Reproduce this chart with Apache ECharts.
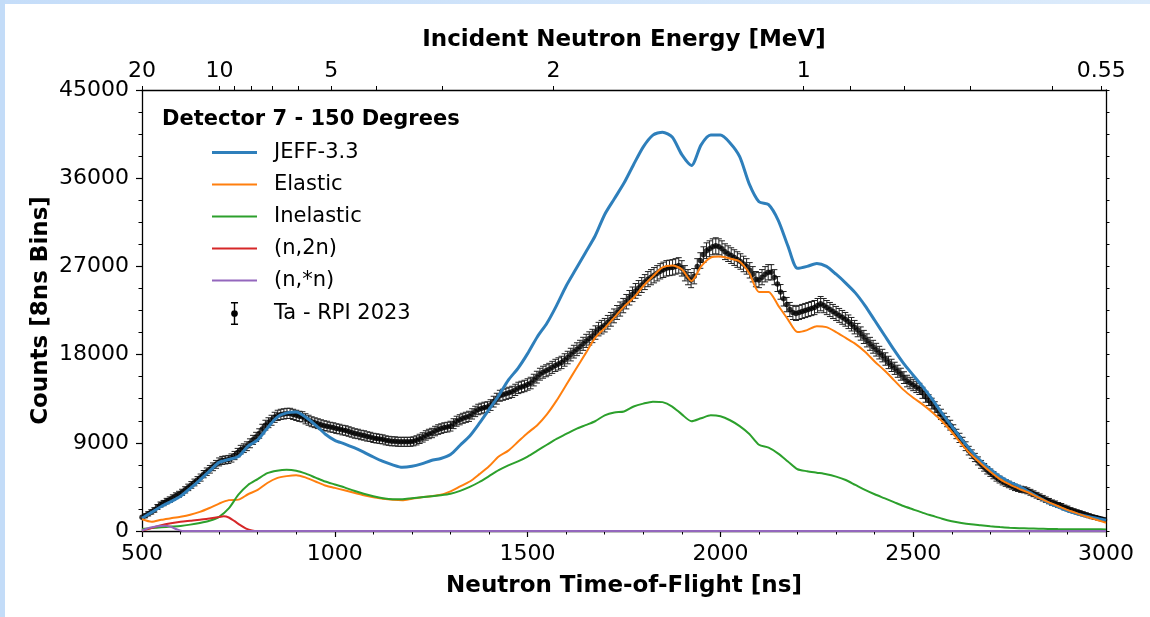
<!DOCTYPE html>
<html>
<head>
<meta charset="utf-8">
<script src="https://cdn.jsdelivr.net/npm/echarts@6/dist/echarts.min.js"></script>
<style>
  html, body { margin: 0; padding: 0; background: #fff; }
  #chart { position: absolute; left: 0; top: 0; width: 1150px; height: 617px; }
  .edge-top { position: absolute; left: 0; top: 0; width: 1150px; height: 4px;
              background: linear-gradient(90deg, #c5ddf9, #dcebfb); }
  .edge-left { position: absolute; left: 0; top: 0; width: 5px; height: 617px; background: #c3dcf8; }
</style>
</head>
<body>
<div id="chart"></div>
<div class="edge-top"></div>
<div class="edge-left"></div>
<script>
// ---- Measured Ta spectrum, detector 7 (150 deg), 8 ns TOF bins from 500 ns ----
const FIRST_BIN_NS = 500;
const BIN_WIDTH_NS = 8;
const counts = [
  1400,1550,1750,1950,2150,2450,2700,2850,3050,3200,
  3400,3600,3750,3950,4200,4450,4700,4950,5200,5450,
  5800,6050,6300,6550,6800,7050,7200,7250,7300,7450,
  7700,8000,8300,8450,8650,8950,9300,9600,9950,10400,
  10800,11050,11300,11600,11800,11900,11950,12000,12000,11900,
  11800,11700,11650,11450,11300,11150,11050,10950,10850,10750,
  10700,10600,10550,10450,10400,10300,10250,10150,10050,9950,
  9900,9800,9750,9650,9600,9500,9450,9400,9350,9250,
  9200,9150,9150,9100,9100,9100,9100,9100,9150,9250,
  9400,9550,9750,9900,10000,10200,10350,10450,10550,10600,
  10700,10950,11200,11350,11500,11600,11700,11950,12200,12400,
  12500,12600,12650,12850,13200,13500,13800,13900,14000,14100,
  14200,14400,14600,14700,14800,14950,15100,15400,15700,16000,
  16200,16350,16500,16700,16900,17050,17200,17450,17700,18000,
  18300,18550,18800,19100,19400,19650,19900,20250,20600,20800,
  21000,21300,21600,21950,22300,22650,23000,23400,23800,24150,
  24500,24800,25100,25400,25700,25900,26100,26300,26500,26650,
  26800,26850,26900,27000,27100,26800,26300,25900,25600,26000,
  27000,27600,28200,28600,28800,29000,29100,29000,28800,28500,
  28300,28100,27900,27700,27500,27250,27000,26600,26200,25700,
  25600,25900,26200,26400,26400,25900,25200,24400,23700,23100,
  22600,22300,22200,22300,22400,22500,22600,22700,22800,23000,
  23200,23000,22800,22600,22400,22200,22000,21800,21600,21350,
  21100,20800,20500,20150,19800,19450,19100,18800,18500,18200,
  17900,17550,17200,16900,16600,16300,16000,15650,15300,15100,
  14900,14700,14500,14100,13700,13350,13000,12650,12300,11900,
  11500,11150,10800,10350,9900,9500,9100,8650,8200,7850,
  7500,7150,6800,6500,6200,5950,5700,5450,5250,5050,
  4900,4750,4600,4450,4350,4250,4200,4100,3950,3800,
  3650,3500,3350,3200,3050,2900,2800,2650,2550,2400,
  2300,2150,2050,1950,1850,1750,1650,1550,1450,1380,
  1300,1220,1150
];
const countErr = [
  190,200,210,220,230,250,260,270,280,285,
  290,295,300,310,320,330,340,345,350,360,
  370,380,390,395,400,405,410,410,410,415,
  420,430,440,445,450,455,460,470,480,490,
  500,505,510,515,520,520,520,520,520,520,
  520,520,520,515,510,505,500,500,500,500,
  500,495,490,490,490,490,490,485,480,480,
  480,480,480,475,470,470,470,465,460,460,
  460,460,460,460,460,460,460,460,460,465,
  470,475,480,480,480,485,490,490,490,495,
  500,505,510,515,510,515,520,525,530,535,
  540,540,540,545,550,555,560,565,570,570,
  570,575,580,580,580,585,590,595,600,605,
  610,610,610,615,620,625,630,635,640,645,
  650,655,660,665,670,675,680,685,690,690,
  690,695,700,705,710,720,730,735,740,745,
  750,755,760,765,770,775,780,780,780,785,
  790,790,790,790,790,785,780,775,770,780,
  790,795,800,805,810,815,820,815,810,805,
  800,800,800,795,790,790,790,785,780,775,
  770,775,780,780,780,770,760,750,740,730,
  720,720,720,720,720,720,720,720,720,725,
  730,725,720,720,720,715,710,705,700,695,
  690,685,680,675,670,665,660,655,650,645,
  640,635,630,625,620,615,610,600,590,585,
  580,575,570,565,560,555,550,540,530,525,
  520,510,500,490,480,470,460,450,440,430,
  420,410,400,390,380,375,370,360,350,345,
  340,335,330,325,320,315,310,305,300,295,
  290,285,280,275,270,265,260,255,250,245,
  240,230,220,215,210,205,200,195,190,185,
  180,175,170
];
const tofBins = counts.map((_, i) => FIRST_BIN_NS + i * BIN_WIDTH_NS);

// ---- JEFF-3.3 simulation and its reaction components ----
const modelTof = [
  500,525,550,575,600,625,650,675,700,725,750,775,800,825,850,875,900,925,950,975,
  1000,1025,1050,1075,1100,1125,1150,1175,1200,1225,1250,1275,1300,1325,1350,1375,1400,1425,1450,1475,
  1500,1525,1550,1575,1600,1625,1650,1675,1700,1725,1750,1775,1800,1825,1850,1875,1900,1925,1950,1975,
  2000,2025,2050,2075,2100,2125,2150,2175,2200,2225,2250,2275,2300,2325,2350,2375,2400,2425,2450,2475,
  2500,2525,2550,2575,2600,2625,2650,2675,2700,2725,2750,2775,2800,2825,2850,2875,2900,2925,2950,2975,
  3000
];
const jeff33 = [
  1300,1900,2500,3000,3550,4350,5200,6100,7000,7300,
  7600,8650,9300,10500,11600,12050,12150,11600,10800,9900,
  9250,8900,8500,8050,7550,7100,6750,6500,6600,6850,
  7200,7400,7800,8750,9700,11000,12400,13800,15400,16600,
  18100,19800,21200,23000,25000,26700,28400,30100,32300,33900,
  35500,37400,39200,40400,40700,40200,38400,37300,39400,40400,
  40400,39600,38200,35400,33600,33300,31700,29100,26800,27000,
  27300,27000,26200,25300,24300,23000,21500,20000,18500,17100,
  15900,14700,13400,12000,10700,9400,8200,7150,6300,5550,
  5000,4550,4000,3450,2900,2450,2050,1750,1500,1300,
  1100
];
const elastic = [
  1200,950,1150,1300,1450,1650,1950,2350,2800,3150,
  3200,3750,4200,4900,5400,5600,5700,5450,5050,4650,
  4400,4150,3900,3650,3450,3300,3200,3150,3300,3450,
  3550,3700,4050,4550,5050,5800,6600,7600,8200,9100,
  10000,10800,11900,13300,14900,16500,18100,19700,20700,21800,
  22900,23800,25000,26000,26900,27100,26700,25500,27000,27900,
  28000,27800,27500,26300,24400,24400,23000,21600,20300,20500,
  20900,20800,20300,19700,19100,18300,17300,16400,15400,14400,
  13600,12900,12100,11200,10100,8900,7800,6900,6050,5300,
  4750,4300,3900,3400,2950,2550,2150,1800,1450,1150,
  850
];
const inelastic = [
  200,300,380,450,520,650,820,1050,1450,2300,
  3700,4700,5300,5900,6150,6250,6150,5850,5450,5050,
  4750,4450,4100,3800,3550,3350,3250,3250,3350,3450,
  3550,3650,3800,4100,4500,5000,5600,6200,6700,7100,
  7600,8200,8800,9400,9900,10400,10800,11200,11800,12100,
  12200,12700,13000,13200,13150,12700,11900,11200,11500,11800,
  11700,11300,10700,9900,8800,8500,7900,7100,6300,6100,
  5950,5800,5550,5200,4700,4200,3750,3350,2950,2550,
  2200,1850,1550,1250,1000,820,680,580,480,400,
  340,290,260,230,210,195,185,180,175,170,
  165
];
const n2nTof = [500,525,550,575,600,625,650,675,700,712,725,740,755,770,785,800,3000];
const n2n    = [50,300,600,800,950,1050,1150,1280,1420,1500,1380,1000,600,250,60,0,0];
const nstarTof = [500,520,540,560,575,590,605,3000];
const nstar    = [50,330,480,530,420,180,0,0];

// ---- Axis ticks ----
const yTicks = [0, 9000, 18000, 27000, 36000, 45000];
const energyMajor = [20, 10, 5, 2, 1, 0.55];            // MeV, labelled on top axis
const energyMinor = [9, 8, 7, 6, 4, 3, 0.9, 0.8, 0.7, 0.6];
const flightPathM = 30.65;                              // flight path length in metres
const TOF_MIN = 500, TOF_MAX = 3000;

// Non-relativistic TOF (ns) of a neutron with energy E (MeV) over the flight path
function energyToTof(E) {
  const t = 72.2977 * flightPathM / Math.sqrt(E);
  return Math.min(TOF_MAX, Math.max(TOF_MIN, t));
}
const majorTof = energyMajor.map(energyToTof);
const allTickTof = energyMajor.concat(energyMinor).map(energyToTof);

const zip = (xs, ys) => xs.map((x, i) => [x, ys[i]]);
const FONT = 'DejaVu Sans';
const BLACK = '#000';

const errorRows = tofBins.map((t, i) => [t, counts[i], countErr[i]]);

function renderErrorBar(params, api) {
  const t = api.value(0), c = api.value(1), e = api.value(2);
  const hi = api.coord([t, c + e]);
  const lo = api.coord([t, c - e]);
  const cap = 3;
  const style = { stroke: '#222', lineWidth: 1 };
  return {
    type: 'group',
    children: [
      { type: 'line', shape: { x1: hi[0], y1: hi[1], x2: lo[0], y2: lo[1] }, style },
      { type: 'line', shape: { x1: hi[0] - cap, y1: hi[1], x2: hi[0] + cap, y2: hi[1] }, style },
      { type: 'line', shape: { x1: lo[0] - cap, y1: lo[1], x2: lo[0] + cap, y2: lo[1] }, style }
    ]
  };
}

// Legend glyphs: plain line handles and an error bar with a dot
const thickLineIcon = 'path://M0,0H45V3H0Z';
const lineIcon = 'path://M0,0H45V2H0Z';
const errorbarIcon = 'path://M3,0H11V1.6H3Z M6.2,0H7.8V26H6.2Z M3,24.4H11V26H3Z M3.2,13A3.8,3.8 0 1,1 10.8,13A3.8,3.8 0 1,1 3.2,13Z';

const axisLineStyle = { color: BLACK, width: 1.3 };
const tickFont = { fontFamily: FONT, fontSize: 22, color: BLACK };
const nameFont = { fontFamily: FONT, fontSize: 23, fontWeight: 'bold', color: BLACK };
const plainNumber = (v) => String(v);

const chart = echarts.init(document.getElementById('chart'), null, { renderer: 'canvas' });
chart.setOption({
  animation: false,
  backgroundColor: '#fff',
  title: {
    text: 'Detector 7 - 150 Degrees',
    left: 162, top: 109, padding: 0,
    textStyle: { fontFamily: FONT, fontSize: 21, fontWeight: 'bold', color: BLACK }
  },
  legend: {
    orient: 'vertical',
    left: 212, top: 142,
    itemWidth: 45, itemHeight: 23, itemGap: 11,
    padding: 0,
    symbolKeepAspect: true,
    textStyle: { fontFamily: FONT, fontSize: 21, color: BLACK, padding: [0, 0, 0, 12] },
    data: [
      { name: 'JEFF-3.3', icon: thickLineIcon },
      { name: 'Elastic', icon: lineIcon },
      { name: 'Inelastic', icon: lineIcon },
      { name: '(n,2n)', icon: lineIcon },
      { name: '(n,*n)', icon: lineIcon },
      { name: 'Ta - RPI 2023', icon: errorbarIcon }
    ]
  },
  grid: { left: 142, right: 44, top: 90, bottom: 86, outerBoundsMode: 'none' },
  xAxis: [
    {
      type: 'value', position: 'bottom', min: TOF_MIN, max: TOF_MAX, interval: 500,
      name: 'Neutron Time-of-Flight [ns]', nameLocation: 'middle', nameGap: 44,
      nameTextStyle: nameFont, nameMoveOverlap: false,
      axisLine: { show: true, onZero: false, lineStyle: axisLineStyle },
      axisTick: { show: true, inside: false, length: 6, lineStyle: { color: BLACK, width: 1.2 } },
      minorTick: { show: true, splitNumber: 5, length: 3.5, lineStyle: { color: BLACK, width: 1 } },
      axisLabel: { ...tickFont, margin: 12, showMinLabel: true, showMaxLabel: true, hideOverlap: false,
                   formatter: plainNumber },
      splitLine: { show: false }
    },
    {
      type: 'value', position: 'top', min: TOF_MIN, max: TOF_MAX,
      name: 'Incident Neutron Energy [MeV]', nameLocation: 'middle', nameGap: 38,
      nameTextStyle: nameFont, nameMoveOverlap: false,
      axisLine: { show: true, onZero: false, lineStyle: axisLineStyle },
      axisTick: { show: true, inside: false, length: 4, customValues: allTickTof,
                  lineStyle: { color: BLACK, width: 1 } },
      axisLabel: {
        ...tickFont, margin: 8, customValues: majorTof, hideOverlap: false,
        formatter: (v) => {
          const i = majorTof.findIndex(t => Math.abs(t - v) < 0.5);
          return i >= 0 ? String(energyMajor[i]) : '';
        }
      },
      splitLine: { show: false }
    }
  ],
  yAxis: [
    {
      type: 'value', position: 'left', min: 0, max: 45000, interval: 9000,
      name: 'Counts [8ns Bins]', nameLocation: 'middle', nameGap: 89, nameRotate: 90,
      nameTextStyle: nameFont, nameMoveOverlap: false,
      axisLine: { show: true, onZero: false, lineStyle: axisLineStyle },
      axisTick: { show: true, inside: false, length: 6, lineStyle: { color: BLACK, width: 1.2 } },
      minorTick: { show: true, splitNumber: 4, length: 3.5, lineStyle: { color: BLACK, width: 1 } },
      axisLabel: { ...tickFont, margin: 13, showMinLabel: true, showMaxLabel: true, hideOverlap: false,
                   customValues: yTicks, formatter: plainNumber },
      splitLine: { show: false }
    },
    {
      type: 'value', position: 'right', min: 0, max: 45000, interval: 2250,
      axisLine: { show: true, onZero: false, lineStyle: axisLineStyle },
      axisTick: { show: true, inside: false, length: 3.5, lineStyle: { color: BLACK, width: 1 } },
      axisLabel: { show: false },
      splitLine: { show: false }
    }
  ],
  series: [
    {
      name: 'Ta - RPI 2023', type: 'custom', renderItem: renderErrorBar,
      data: errorRows, encode: { x: 0, y: 1 }, itemStyle: { color: BLACK }, z: 2, clip: true
    },
    {
      name: 'Ta - RPI 2023', type: 'scatter', data: zip(tofBins, counts),
      symbol: 'circle', symbolSize: 5.5, itemStyle: { color: BLACK }, z: 3
    },
    {
      name: 'JEFF-3.3', type: 'line', data: zip(modelTof, jeff33), symbol: 'none', smooth: 0.25,
      lineStyle: { color: '#2e7fbb', width: 3 }, itemStyle: { color: '#2e7fbb' }, z: 5
    },
    {
      name: 'Elastic', type: 'line', data: zip(modelTof, elastic), symbol: 'none', smooth: 0.25,
      lineStyle: { color: '#ff7f0e', width: 2 }, itemStyle: { color: '#ff7f0e' }, z: 6
    },
    {
      name: 'Inelastic', type: 'line', data: zip(modelTof, inelastic), symbol: 'none', smooth: 0.25,
      lineStyle: { color: '#2ca02c', width: 2 }, itemStyle: { color: '#2ca02c' }, z: 7
    },
    {
      name: '(n,2n)', type: 'line', data: zip(n2nTof, n2n), symbol: 'none', smooth: 0.25,
      lineStyle: { color: '#d62728', width: 2 }, itemStyle: { color: '#d62728' }, z: 8
    },
    {
      name: '(n,*n)', type: 'line', data: zip(nstarTof, nstar), symbol: 'none', smooth: 0.25,
      lineStyle: { color: '#9467bd', width: 2 }, itemStyle: { color: '#9467bd' }, z: 9
    }
  ]
});
</script>
</body>
</html>
